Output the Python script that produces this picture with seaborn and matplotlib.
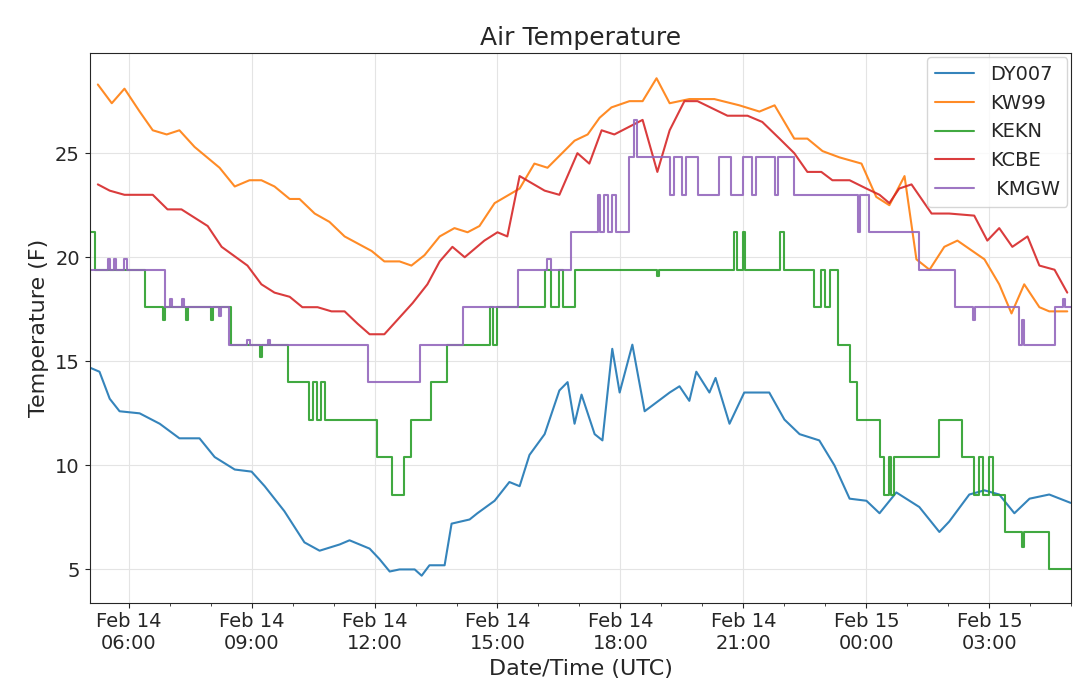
import matplotlib.pyplot as plt
import matplotlib.dates as mdates
import numpy as np
import pandas as pd
import seaborn as sns

# Plain style with light grid
sns.set_style('ticks')
plt.rcParams['font.family'] = ['DejaVu Sans']

# Figure: station air temperatures, Feb 14-15
fig, ax = plt.subplots(1, 1, figsize=(10.8, 6.92), dpi=100)

base = pd.Timestamp('2018-02-14 00:00')

# Hours since Feb 14 00:00 and temperatures (F)
dy_hours = [5.05, 5.29, 5.54, 5.78, 6.27, 6.76, 7.24, 7.73, 8.1, 8.59, 9.0, 9.32, 9.8, 10.29, 10.66,
            11.15, 11.39, 11.88, 12.12, 12.37, 12.61, 12.98, 13.15, 13.34, 13.71, 13.88, 14.32, 14.51,
            14.93, 15.29, 15.54, 15.78, 16.15, 16.51, 16.71, 16.88, 17.05, 17.37, 17.56, 17.8, 17.98,
            18.29, 18.59, 19.2, 19.44, 19.68, 19.85, 20.17, 20.32, 20.66, 21.02, 21.63, 22.0, 22.37,
            22.85, 23.22, 23.59, 24.0, 24.32, 24.73, 25.29, 25.78, 26.02, 26.51, 26.88, 27.24, 27.61,
            27.98, 28.46, 28.98]
dy_temp = [14.7, 14.5, 13.2, 12.6, 12.5, 12.0, 11.3, 11.3, 10.4, 9.8, 9.7, 9.0, 7.8, 6.3, 5.9,
           6.2, 6.4, 6.0, 5.5, 4.9, 5.0, 5.0, 4.7, 5.2, 5.2, 7.2, 7.4, 7.7,
           8.3, 9.2, 9.0, 10.5, 11.5, 13.6, 14.0, 12.0, 13.4, 11.5, 11.2, 15.6, 13.5,
           15.8, 12.6, 13.5, 13.8, 13.1, 14.5, 13.5, 14.2, 12.0, 13.5, 13.5, 12.2, 11.5,
           11.2, 10.0, 8.4, 8.3, 7.7, 8.7, 8.0, 6.8, 7.3, 8.6, 8.8, 8.6, 7.7,
           8.4, 8.6, 8.2]

kw_hours = [5.25, 5.59, 5.9, 6.27, 6.59, 6.93, 7.24, 7.61, 8.22, 8.59, 8.95, 9.24, 9.56, 9.93, 10.17,
            10.54, 10.9, 11.27, 11.93, 12.24, 12.61, 12.9, 13.22, 13.59, 13.95, 14.27, 14.56, 14.93,
            15.54, 15.9, 16.22, 16.88, 17.2, 17.49, 17.78, 18.22, 18.54, 18.88, 19.2, 19.68, 20.29,
            20.9, 21.39, 21.76, 22.24, 22.56, 22.93, 23.34, 23.88, 24.24, 24.56, 24.93, 25.22, 25.54,
            25.9, 26.22, 26.88, 27.24, 27.54, 27.85, 28.22, 28.46, 28.9]
kw_temp = [28.3, 27.4, 28.1, 27.0, 26.1, 25.9, 26.1, 25.3, 24.3, 23.4, 23.7, 23.7, 23.4, 22.8, 22.8,
           22.1, 21.7, 21.0, 20.3, 19.8, 19.8, 19.6, 20.1, 21.0, 21.4, 21.2, 21.5, 22.6,
           23.3, 24.5, 24.3, 25.6, 25.9, 26.7, 27.2, 27.5, 27.5, 28.6, 27.4, 27.6, 27.6,
           27.3, 27.0, 27.3, 25.7, 25.7, 25.1, 24.8, 24.5, 22.9, 22.5, 23.9, 19.9, 19.4,
           20.5, 20.8, 19.9, 18.7, 17.3, 18.7, 17.6, 17.4, 17.4]

kekn_hours = [5.05, 5.17, 6.39, 6.85, 6.9, 7.4, 7.45, 8.0, 8.05, 8.5, 9.2, 9.25, 9.9, 10.41, 10.5,
              10.6, 10.7, 10.8, 10.85, 12.07, 12.42, 12.73, 12.9, 13.39, 13.78, 14.81, 14.9,
              15.0, 15.71, 16.15, 16.3, 16.5, 16.6, 16.88, 18.9, 18.95, 20.78, 20.85, 21.0, 21.05,
              21.63, 21.9, 22.0, 22.73, 22.9, 23.0, 23.1, 23.3, 23.59, 23.78, 24.32, 24.44, 24.55,
              24.6, 24.68, 25.78, 26.32, 26.63, 26.75, 26.85, 27.0, 27.1, 27.37, 27.8, 27.85, 28.46,
              28.98]
kekn_temp = [21.2, 19.4, 17.6, 17.0, 17.6, 17.0, 17.6, 17.0, 17.6, 15.8, 15.2, 15.8, 14.0, 12.2, 14.0,
             12.2, 14.0, 12.2, 12.2, 10.4, 8.6, 10.4, 12.2, 14.0, 15.8, 17.6, 15.8,
             17.6, 17.6, 19.4, 17.6, 19.4, 17.6, 19.4, 19.1, 19.4, 21.2, 19.4, 21.2, 19.4,
             19.4, 21.2, 19.4, 17.6, 19.4, 17.6, 19.4, 15.8, 14.0, 12.2, 10.4, 8.6, 10.4,
             8.6, 10.4, 12.2, 10.4, 8.6, 10.4, 8.6, 10.4, 8.6, 6.8, 6.1, 6.8, 5.0,
             5.0]

kcbe_hours = [5.25, 5.54, 5.9, 6.59, 6.95, 7.29, 7.93, 8.27, 8.9, 9.24, 9.56, 9.93, 10.24, 10.61, 10.95,
              11.27, 11.59, 11.88, 12.24, 12.93, 13.29, 13.59, 13.9, 14.2, 14.68, 15.0, 15.24, 15.54,
              16.15, 16.51, 16.95, 17.24, 17.54, 17.85, 18.54, 18.9, 19.2, 19.56, 19.88, 20.61, 21.1,
              21.46, 21.88, 22.24, 22.56, 22.9, 23.17, 23.59, 24.0, 24.32, 24.56, 24.8, 25.1, 25.59,
              26.02, 26.63, 26.95, 27.24, 27.56, 27.93, 28.22, 28.59, 28.9]
kcbe_temp = [23.5, 23.2, 23.0, 23.0, 22.3, 22.3, 21.5, 20.5, 19.6, 18.7, 18.3, 18.1, 17.6, 17.6, 17.4,
             17.4, 16.8, 16.3, 16.3, 17.8, 18.7, 19.8, 20.5, 20.0, 20.8, 21.2, 21.0, 23.9,
             23.2, 23.0, 25.0, 24.5, 26.1, 25.9, 26.6, 24.1, 26.1, 27.5, 27.5, 26.8, 26.8,
             26.5, 25.7, 25.0, 24.1, 24.1, 23.7, 23.7, 23.3, 23.0, 22.6, 23.3, 23.5, 22.1,
             22.1, 22.0, 20.8, 21.4, 20.5, 21.0, 19.6, 19.4, 18.3]

kmgw_hours = [5.05, 5.5, 5.55, 5.65, 5.7, 5.9, 5.95, 6.88, 7.0, 7.05, 7.3, 7.35, 8.2, 8.25, 8.46,
              8.9, 8.95, 9.4, 9.45, 11.85, 13.1, 14.15, 15.49, 16.2, 16.3, 16.8, 17.44, 17.5,
              17.6, 17.7, 17.8, 17.9, 18.22, 18.34, 18.4, 19.2, 19.3, 19.5, 19.6, 19.9, 20.4,
              20.7, 21.0, 21.2, 21.3, 21.76, 21.85, 22.24, 23.8, 23.85, 24.07, 25.29, 26.15, 26.6,
              26.65, 27.73, 27.8, 27.85, 28.59, 28.8, 28.85, 28.98]
kmgw_temp = [19.4, 19.9, 19.4, 19.9, 19.4, 19.9, 19.4, 17.6, 18.0, 17.6, 18.0, 17.6, 17.2, 17.6, 15.8,
             16.0, 15.8, 16.0, 15.8, 14.0, 15.8, 17.6, 19.4, 19.9, 19.4, 21.2, 23.0, 21.2,
             23.0, 21.2, 23.0, 21.2, 24.8, 26.6, 24.8, 23.0, 24.8, 23.0, 24.8, 23.0, 24.8,
             23.0, 24.8, 23.0, 24.8, 23.0, 24.8, 23.0, 21.2, 23.0, 21.2, 19.4, 17.6, 17.0,
             17.6, 15.8, 17.0, 15.8, 17.6, 18.0, 17.6, 17.6]

series = [('DY007', dy_hours, dy_temp, 'default'),
          ('KW99', kw_hours, kw_temp, 'default'),
          ('KEKN', kekn_hours, kekn_temp, 'steps-post'),
          ('KCBE', kcbe_hours, kcbe_temp, 'default'),
          (' KMGW', kmgw_hours, kmgw_temp, 'steps-post')]
colors = sns.color_palette('tab10', 5)

for (name, hours, temps, style), c in zip(series, colors):
    times = base + pd.to_timedelta(np.array(hours), unit='h')
    sns.lineplot(x=times, y=temps, ax=ax, color=c, label=name, linewidth=1.5,
                 drawstyle=style, alpha=0.9)

ax.set_xlim(base + pd.Timedelta(hours=5.05), base + pd.Timedelta(hours=29.0))
ax.set_ylim(3.4, 29.8)
ax.set_yticks([5, 10, 15, 20, 25])
ax.xaxis.set_major_locator(mdates.HourLocator(byhour=[0, 3, 6, 9, 12, 15, 18, 21]))
ax.xaxis.set_minor_locator(mdates.HourLocator())
ax.xaxis.set_major_formatter(mdates.DateFormatter('%b %d\n%H:%M'))
ax.tick_params(axis='both', labelsize=14)
ax.grid(True, color='#e4e4e4', linewidth=0.8)

ax.set_xlabel('Date/Time (UTC)', fontsize=16)
ax.set_ylabel('Temperature (F)', fontsize=16)
ax.set_title('Air Temperature', fontsize=18)
ax.legend(loc='upper right', fontsize=14, frameon=True, borderaxespad=0.2)

plt.subplots_adjust(left=0.083, right=0.992, top=0.923, bottom=0.129)
plt.savefig('out.png', dpi=100)
plt.close()
